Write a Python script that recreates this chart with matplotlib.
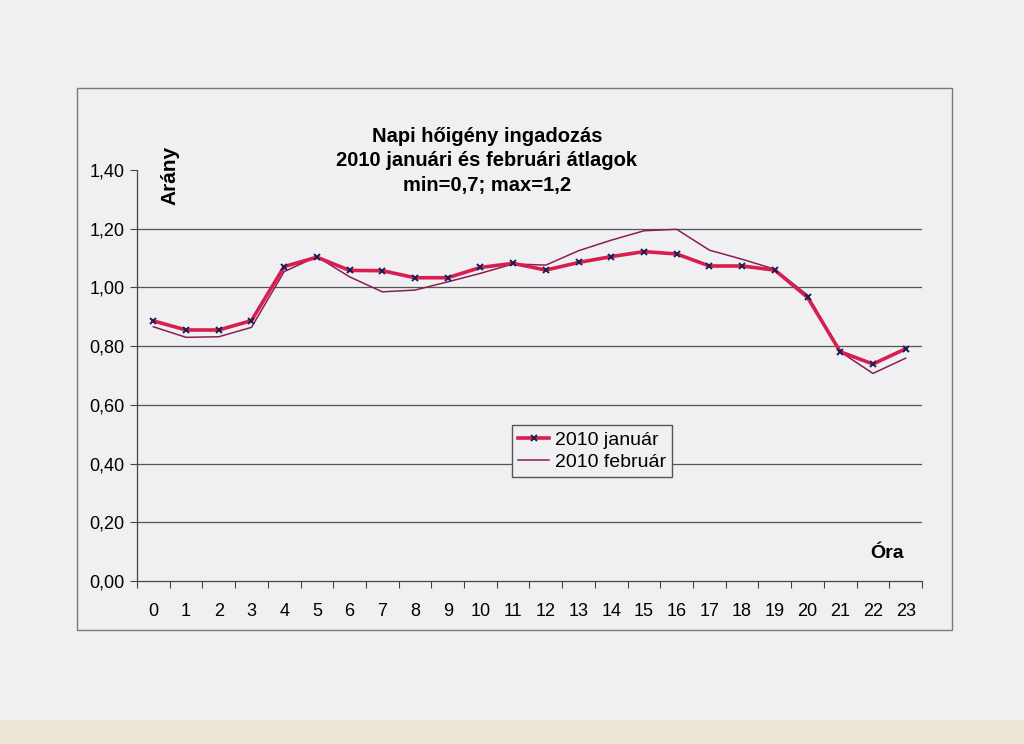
import matplotlib
matplotlib.use('Agg')
from matplotlib import pyplot as plt
from matplotlib.patches import Rectangle
import numpy as np

# data
hours = list(range(24))
jan = [0.886, 0.855, 0.855, 0.887, 1.071, 1.103, 1.058, 1.057, 1.033, 1.033, 1.068, 1.082,
       1.059, 1.085, 1.105, 1.122, 1.114, 1.073, 1.073, 1.059, 0.966, 0.781, 0.739, 0.791]
feb = [0.866, 0.830, 0.832, 0.864, 1.054, 1.105, 1.036, 0.985, 0.991, 1.019, 1.048, 1.080,
       1.076, 1.125, 1.161, 1.193, 1.198, 1.127, 1.096, 1.062, 0.974, 0.781, 0.707, 0.759]
yticks = [0.0, 0.2, 0.4, 0.6, 0.8, 1.0, 1.2, 1.4]
title = 'Napi hőigény ingadozás\n2010 januári és februári átlagok\nmin=0,7; max=1,2'

plt.rcParams['font.family'] = ['Liberation Sans', 'DejaVu Sans']
paper = '#f0f0f3'

fig = plt.figure(figsize=(10.24, 7.44), dpi=100)
fig.patch.set_facecolor(paper)

# chart frame and the beige strip of the scan
fig.add_artist(Rectangle((77/1024, 1-630/744), 875/1024, 542/744, transform=fig.transFigure,
                         fill=False, edgecolor='#7a7a7a', lw=1))
fig.add_artist(Rectangle((0, 0), 1, 24/744, transform=fig.transFigure,
                         facecolor='#ece7d4', edgecolor='none'))

ax = fig.add_axes([137/1024, 1-581/744, 785/1024, 411/744])
ax.set_facecolor(paper)

for y in yticks[1:-1]:
    ax.axhline(y, color='#555555', lw=0.9, zorder=1)

ax.plot(hours, jan, color='#d81e4e', lw=2.6, marker='x', markersize=5,
        markeredgecolor='#1c1f55', markeredgewidth=1.4, label='2010 január', zorder=3)
ax.plot(hours, feb, color='#8a1f4f', lw=1.1, label='2010 február', zorder=2)

ax.set_xlim(-0.5, 23.5)
ax.set_ylim(0, 1.4)
ax.set_yticks(yticks)
ax.set_yticklabels([('%.2f' % v).replace('.', ',') for v in yticks], fontsize=13)
ax.set_xticks(np.arange(-0.5, 24, 1))
ax.set_xticklabels([])
ax.set_xticks(hours, minor=True)
ax.set_xticklabels([str(h) for h in hours], minor=True, fontsize=13)
ax.tick_params(axis='x', which='major', length=5, color='#444444', direction='out')
ax.tick_params(axis='x', which='minor', length=0, pad=16)
ax.tick_params(axis='y', length=5, color='#444444', pad=4)

for s in ['top', 'right']:
    ax.spines[s].set_visible(False)
for s in ['left', 'bottom']:
    ax.spines[s].set_color('#444444')
    ax.spines[s].set_linewidth(0.9)

fig.text(487/1024, 1-127/744, title, ha='center', va='top', fontsize=14.5,
         fontweight='bold', linespacing=1.35)
fig.text(170/1024, 1-175/744, 'Arány', rotation=90, ha='center', va='center',
         fontsize=15, fontweight='bold')
fig.text(887/1024, 1-553/744, 'Óra', ha='center', va='center', fontsize=14, fontweight='bold')

leg = ax.legend(loc='center', bbox_to_anchor=(0.58, 0.316), fontsize=14, frameon=True,
                fancybox=False, handlelength=1.6, handletextpad=0.3, borderpad=0.3,
                labelspacing=0.25, borderaxespad=0)
leg.get_frame().set_edgecolor('#555555')
leg.get_frame().set_facecolor(paper)
leg.get_frame().set_alpha(1)
leg.set_zorder(5)

plt.savefig('out.png', dpi=100, facecolor=fig.get_facecolor())
